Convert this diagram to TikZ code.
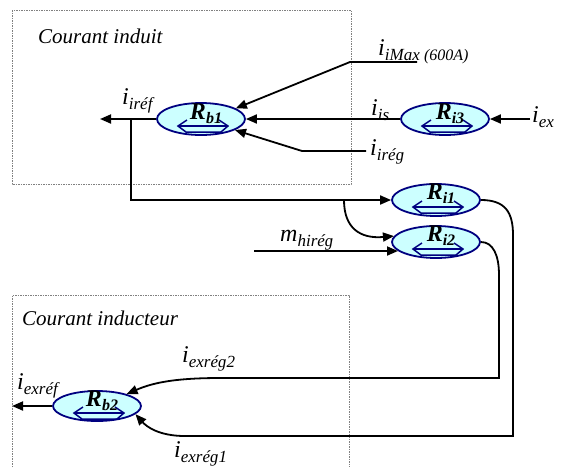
\documentclass[tikz,border=0pt]{standalone}
\usepackage{fontspec}
\setmainfont{Liberation Serif}
\usetikzlibrary{shapes.geometric,arrows.meta}
\definecolor{ecyan}{HTML}{CCFFFF}
\definecolor{enavy}{HTML}{000080}
\newcommand\cur[2]{{\fontsize{24}{24}\selectfont\itshape #1}\raisebox{-5pt}{\fontsize{17}{17}\selectfont\itshape #2}}
\newcommand\regl[1]{{\fontsize{24}{24}\selectfont\bfseries\itshape R}\raisebox{-4pt}{\fontsize{16}{16}\selectfont\bfseries\itshape #1}}
\newcommand\glyph[1]{\begin{scope}[shift={(#1.center)}]
 \draw[enavy, line width=1.5pt, line join=miter] (-14,1) -- (-23,7) -- (-15,13) -- (20,13) -- (27,7) -- (18,1);
 \draw[enavy, line width=1.5pt] (-23,7) -- (27,7);
\end{scope}}
\tikzset{
 reg/.style={ellipse, draw=enavy, fill=ecyan, line width=1.8pt, minimum width=88pt, minimum height=32pt, inner sep=0pt},
 conn/.style={line width=1.8pt, -{Triangle[length=11pt,width=9pt]}},
 boxst/.style={draw=gray, line width=0.8pt, dash pattern=on 1.5pt off 1pt},
 lbl/.style={anchor=base west, inner sep=0pt},
 rlbl/.style={anchor=base, inner sep=0pt}
}
\begin{document}
\begin{tikzpicture}[x=1pt,y=-1pt]
\useasboundingbox (0,0) rectangle (565,467);
% boxes
\draw[boxst] (12,10) rectangle (351,184);
\draw[boxst] (12,467) -- (12,295) -- (349,295) -- (349,467);
\node[lbl] (t1) at (38,43) {\fontsize{21}{21}\selectfont\itshape Courant induit};
\node[lbl] (t2) at (22,325) {\fontsize{21}{21}\selectfont\itshape Courant inducteur};
% regulators
\node[reg] (Rb1) at (201,119) {};
\node[reg] (Ri3) at (445,119) {};
\node[reg] (Ri1) at (436,200) {};
\node[reg] (Ri2) at (436,242) {};
\node[reg, minimum height=30pt] (Rb2) at (97,406) {};
\glyph{Rb1}\glyph{Ri3}\glyph{Ri1}\glyph{Ri2}\glyph{Rb2}
\node[rlbl] (Lb1) at (206,119) {\regl{b1}};
\node[rlbl] (Li3) at (450,119) {\regl{i3}};
\node[rlbl] (Li1) at (441,199) {\regl{i1}};
\node[rlbl] (Li2) at (441,241) {\regl{i2}};
\node[rlbl] (Lb2) at (102,406) {\regl{b2}};
% coordinates
\coordinate (irefend) at (100,119);
\coordinate (tap1) at (131,119);
\coordinate (tap2) at (344,200);
\coordinate (mstart) at (254,251);
\coordinate (Ri2m) at (398,251);
\coordinate (imaxend) at (417,62);
\coordinate (imaxbend) at (350,62);
\coordinate (iregstart) at (366,151);
\coordinate (iregbend) at (302,151);
\coordinate (iexstart) at (530,119);
\coordinate (exrefend) at (12,406);
% connectors
\draw[conn] (Rb1.west) -- (irefend);
\draw[conn] (tap1) |- (Ri1.west);
\draw[conn] (tap2) .. controls (344,228) and (360,239) .. (Ri2.172);
\draw[conn] (mstart) -- (Ri2m);
\draw[conn] (imaxend) -- (imaxbend) -- (Rb1.17);
\draw[conn] (Ri3.west) -- (Rb1.east);
\draw[conn] (iregstart) -- (iregbend) -- (Rb1.-18);
\draw[conn] (iexstart) -- (Ri3.east);
\draw[conn] (Ri1.east) .. controls (505,200) and (513,212) .. (513,235) -- (513,436) -- (185,436) .. controls (158,436) and (146,426) .. (Rb2.-12);
\draw[conn] (Ri2.east) .. controls (493,242) and (499,255) .. (499,275) -- (499,378) -- (220,378) .. controls (170,378) and (150,384) .. (Rb2.22);
\draw[conn] (Rb2.west) -- (exrefend);
% current labels
\node[lbl] (l1) at (122,104) {\cur{i}{iréf}};
\node[lbl] (l2) at (378,55) {\cur{i}{iMax {\fontsize{16}{16}\selectfont (600A)}}};
\node[lbl] (l3) at (371,115) {\cur{i}{is}};
\node[lbl] (l4) at (370,155) {\cur{i}{iréɡ}};
\node[lbl] (l5) at (532,122) {\cur{i}{ex}};
\node[lbl] (l6) at (280,241) {\cur{m}{hiréɡ}};
\node[lbl] (l7) at (17,389) {\cur{i}{exréf}};
\node[lbl] (l8) at (182,362) {\cur{i}{exréɡ2}};
\node[lbl] (l9) at (174,457) {\cur{i}{exréɡ1}};
\end{tikzpicture}
\end{document}
